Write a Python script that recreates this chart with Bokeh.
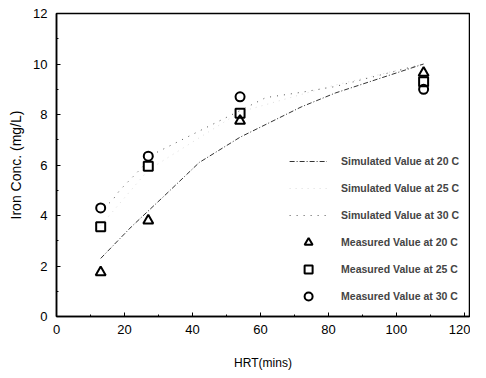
from bokeh.plotting import figure
from bokeh.models import Range1d, Legend, LegendItem, FixedTicker
from bokeh.embed import file_html
from bokeh.resources import INLINE

# Measured data
hrt = [13, 27, 54, 108]
meas_20 = [1.75, 3.8, 7.75, 9.65]
meas_25 = [3.55, 5.95, 8.05, 9.3]
meas_30 = [4.3, 6.35, 8.7, 9.0]

# Simulated curves
sim20_x = [13, 22, 31.5, 42, 54, 72, 82, 108]
sim20_y = [2.3, 3.55, 4.75, 6.1, 7.1, 8.3, 8.85, 10.0]
sim25_x = [13, 27, 54, 80, 108]
sim25_y = [3.6, 5.8, 8.1, 9.1, 10.0]
sim30_x = [14, 16.6, 18.6, 29.5, 61.6, 71.6, 81.7, 108]
sim30_y = [4.3, 4.63, 5.0, 6.5, 8.67, 8.87, 9.1, 10.0]

x_ticks = [0, 20, 40, 60, 80, 100, 120]
y_ticks = [0, 2, 4, 6, 8, 10, 12]

p = figure(frame_width=413, frame_height=303, output_backend="svg", toolbar_location=None,
           x_range=Range1d(0, 121.5), y_range=Range1d(0, 12),
           min_border_left=56, min_border_right=1, min_border_top=13, min_border_bottom=46)
p.xgrid.visible = False
p.ygrid.visible = False
p.outline_line_color = "black"
p.outline_line_width = 1.5
p.background_fill_color = "white"

font = "Liberation Sans"
for ax, ticks in ((p.xaxis[0], x_ticks), (p.yaxis[0], y_ticks)):
    ax.ticker = FixedTicker(ticks=ticks, minor_ticks=[t + (ticks[1] - ticks[0]) / 2 for t in ticks[:-1]])
    ax.axis_line_color = "black"
    ax.axis_line_width = 1.5
    ax.major_tick_in = 4
    ax.major_tick_out = 0
    ax.minor_tick_in = 2
    ax.minor_tick_out = 0
    ax.major_label_text_font = font
    ax.major_label_text_font_size = "13px"
    ax.major_label_text_color = "black"
    ax.axis_label_text_font = font
    ax.axis_label_text_font_style = "normal"
    ax.axis_label_text_color = "black"

p.xaxis.axis_label = "HRT(mins)"
p.yaxis.axis_label = "Iron Conc. (mg/L)"
p.xaxis.axis_label_text_font_size = "12px"
p.yaxis.axis_label_text_font_size = "14px"
p.xaxis.major_label_standoff = 8
p.yaxis.major_label_standoff = 9
p.xaxis.axis_label_standoff = 19
p.yaxis.axis_label_standoff = 6

l20 = p.line(sim20_x, sim20_y, line_color="#333333", line_width=1, line_dash="5 2 1 2")
l25 = p.line(sim25_x, sim25_y, line_color="#bbbbbb", line_width=1, line_dash="1 5", line_alpha=0.5)
l30 = p.line(sim30_x, sim30_y, line_color="#555555", line_width=1, line_dash="1 6")

m20 = p.scatter(hrt, meas_20, marker="triangle", size=10, fill_color=None, line_color="black", line_width=2)
m25 = p.scatter(hrt, meas_25, marker="square", size=9, fill_color=None, line_color="black", line_width=2)
m30 = p.scatter(hrt, meas_30, marker="circle", size=9, fill_color=None, line_color="black", line_width=2)

legend = Legend(items=[
    LegendItem(label="Simulated Value at 20 C", renderers=[l20]),
    LegendItem(label="Simulated Value at 25 C", renderers=[l25]),
    LegendItem(label="Simulated Value at 30 C", renderers=[l30]),
    LegendItem(label="Measured Value at 20 C", renderers=[m20]),
    LegendItem(label="Measured Value at 25 C", renderers=[m25]),
    LegendItem(label="Measured Value at 30 C", renderers=[m30]),
], location="bottom_right")
legend.border_line_color = None
legend.background_fill_alpha = 0
legend.label_text_font = font
legend.label_text_font_size = "10.5px"
legend.label_text_font_style = "bold"
legend.glyph_width = 38
legend.glyph_height = 20
legend.label_height = 20
legend.spacing = 7
legend.label_standoff = 14
legend.margin = 10
legend.padding = 4
p.add_layout(legend, "center")

open("out.html", "w").write(file_html(p, INLINE))
